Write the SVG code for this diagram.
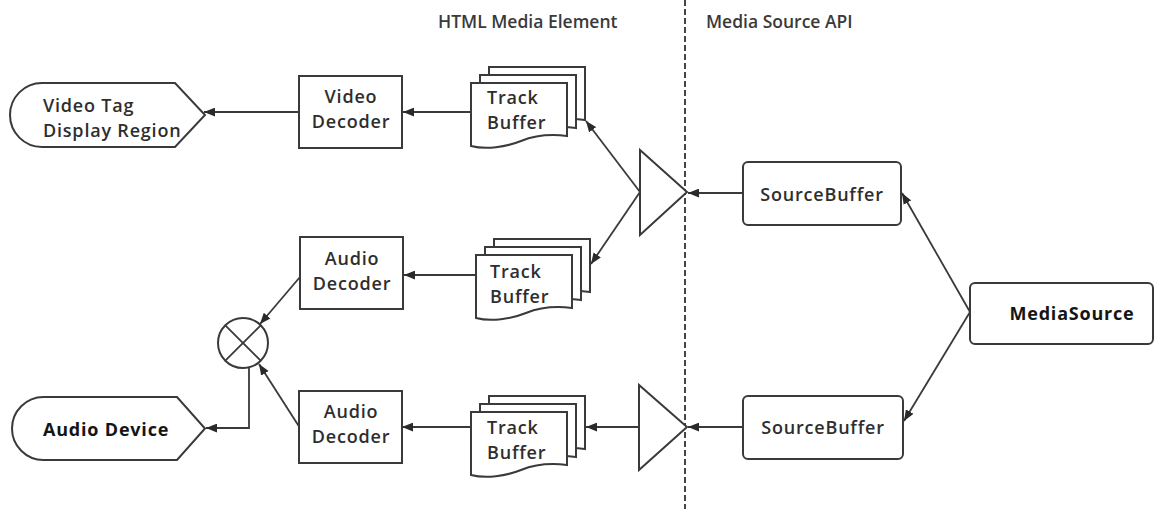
<svg xmlns="http://www.w3.org/2000/svg" xmlns:xlink="http://www.w3.org/1999/xlink" width="1155" height="509" viewBox="0 0 1155 509">
  <style>
    .shape { fill: #fff; stroke: #3a3a3a; stroke-width: 2; }
    .line { fill: none; stroke: #3a3a3a; stroke-width: 1.8; }
    .lbl { font-family: "Open Sans", "Liberation Sans", sans-serif; font-weight: 600; font-size: 18px; letter-spacing: 0.8px; fill: #2e2e2e; }
    .mid { text-anchor: middle; }
    .strong { font-weight: 700; fill: #151515; }
    .head { font-family: "Open Sans", "Liberation Sans", sans-serif; font-weight: 600; font-size: 17.5px; fill: #3a3a3a; }
    .divider { stroke: #444; stroke-width: 2; stroke-dasharray: 6 3; }
  </style>
  <defs>
    <marker id="arrow" viewBox="0 0 10 8" refX="10" refY="4" markerWidth="11" markerHeight="9" markerUnits="userSpaceOnUse" orient="auto">
      <path d="M0,0 L10,4 L0,8 Z" fill="#2a2a2a"/>
    </marker>
    <!-- one sheet of a document stack, wavy bottom edge -->
    <path id="doc" d="M0,0 H96 V53 C80,51 65,52 50,58 C35,64 15,67 0,63 Z"/>
  </defs>

  <rect width="1155" height="509" fill="#fff"/>

  <!-- boundary between the two APIs -->
  <line class="divider" x1="685" y1="0" x2="685" y2="509"/>
  <text class="head" x="438" y="28">HTML Media Element</text>
  <text class="head" x="706" y="28">Media Source API</text>

  <g id="connectors">
    <line class="line" x1="471" y1="112" x2="403" y2="112" marker-end="url(#arrow)"/>
    <line class="line" x1="299" y1="112" x2="204" y2="112" marker-end="url(#arrow)"/>
    <line class="line" x1="640" y1="192" x2="586" y2="121" marker-end="url(#arrow)"/>
    <line class="line" x1="640" y1="192" x2="591" y2="264" marker-end="url(#arrow)"/>
    <line class="line" x1="743" y1="193" x2="688" y2="193" marker-end="url(#arrow)"/>
    <line class="line" x1="970" y1="312" x2="902" y2="193" marker-end="url(#arrow)"/>
    <line class="line" x1="970" y1="312" x2="904" y2="421" marker-end="url(#arrow)"/>
    <line class="line" x1="743" y1="427" x2="688" y2="427" marker-end="url(#arrow)"/>
    <line class="line" x1="639" y1="427" x2="586" y2="427" marker-end="url(#arrow)"/>
    <line class="line" x1="471" y1="427" x2="402" y2="427" marker-end="url(#arrow)"/>
    <line class="line" x1="476" y1="275" x2="404" y2="275" marker-end="url(#arrow)"/>
    <line class="line" x1="300" y1="277" x2="260" y2="324" marker-end="url(#arrow)"/>
    <line class="line" x1="300" y1="428" x2="259" y2="364" marker-end="url(#arrow)"/>
    <path class="line" d="M249,367 V428 H206" marker-end="url(#arrow)"/>
  </g>

  <g id="video-display">
    <path class="shape" d="M42,83 H175 L205,115 L175,147 H42 A32,32 0 0 1 42,83 Z"/>
    <text class="lbl" x="43" y="112">Video Tag</text>
    <text class="lbl" x="43" y="137">Display Region</text>
  </g>

  <g id="video-decoder">
    <rect class="shape" x="299" y="76" width="103" height="72"/>
    <text class="lbl mid" x="351" y="103">Video</text>
    <text class="lbl mid" x="351" y="128">Decoder</text>
  </g>

  <g id="track-buffer-video" transform="translate(471,83)">
    <use href="#doc" class="shape" x="18" y="-16"/>
    <use href="#doc" class="shape" x="9" y="-8"/>
    <use href="#doc" class="shape"/>
    <text class="lbl" x="16" y="21">Track</text>
    <text class="lbl" x="16" y="46">Buffer</text>
  </g>

  <g id="audio-decoder-1">
    <rect class="shape" x="300" y="237" width="103" height="72"/>
    <text class="lbl mid" x="352" y="265">Audio</text>
    <text class="lbl mid" x="352" y="290">Decoder</text>
  </g>

  <g id="track-buffer-audio-1" transform="translate(476,255)">
    <use href="#doc" class="shape" x="18" y="-16"/>
    <use href="#doc" class="shape" x="9" y="-8"/>
    <use href="#doc" class="shape"/>
    <text class="lbl" x="14" y="23">Track</text>
    <text class="lbl" x="14" y="48">Buffer</text>
  </g>

  <g id="mixer">
    <circle class="shape" cx="243" cy="343" r="25"/>
    <line class="line" x1="225.3" y1="325.3" x2="260.7" y2="360.7"/>
    <line class="line" x1="260.7" y1="325.3" x2="225.3" y2="360.7"/>
  </g>

  <g id="audio-device">
    <path class="shape" d="M43.5,397 H177 L205,428.5 L177,460 H43.5 A31.5,31.5 0 0 1 43.5,397 Z"/>
    <text class="lbl strong" x="43" y="436">Audio Device</text>
  </g>

  <g id="audio-decoder-2">
    <rect class="shape" x="299" y="391" width="103" height="72"/>
    <text class="lbl mid" x="351" y="418">Audio</text>
    <text class="lbl mid" x="351" y="443">Decoder</text>
  </g>

  <g id="track-buffer-audio-2" transform="translate(471,412)">
    <use href="#doc" class="shape" x="18" y="-16"/>
    <use href="#doc" class="shape" x="9" y="-8"/>
    <use href="#doc" class="shape"/>
    <text class="lbl" x="16" y="22">Track</text>
    <text class="lbl" x="16" y="47">Buffer</text>
  </g>

  <g id="splitter-1">
    <path class="shape" d="M640,150 L640,235 L687,192 Z"/>
  </g>

  <g id="splitter-2">
    <path class="shape" d="M639,385 L639,470 L687,427 Z"/>
  </g>

  <g id="source-buffer-1">
    <rect class="shape" x="743" y="162" width="158" height="63" rx="5"/>
    <text class="lbl mid" x="822" y="201">SourceBuffer</text>
  </g>

  <g id="source-buffer-2">
    <rect class="shape" x="743" y="396" width="160" height="63" rx="5"/>
    <text class="lbl mid" x="823" y="434">SourceBuffer</text>
  </g>

  <g id="media-source">
    <rect class="shape" x="970" y="283" width="183" height="61" rx="5"/>
    <text class="lbl mid strong" x="1072" y="320">MediaSource</text>
  </g>
</svg>
